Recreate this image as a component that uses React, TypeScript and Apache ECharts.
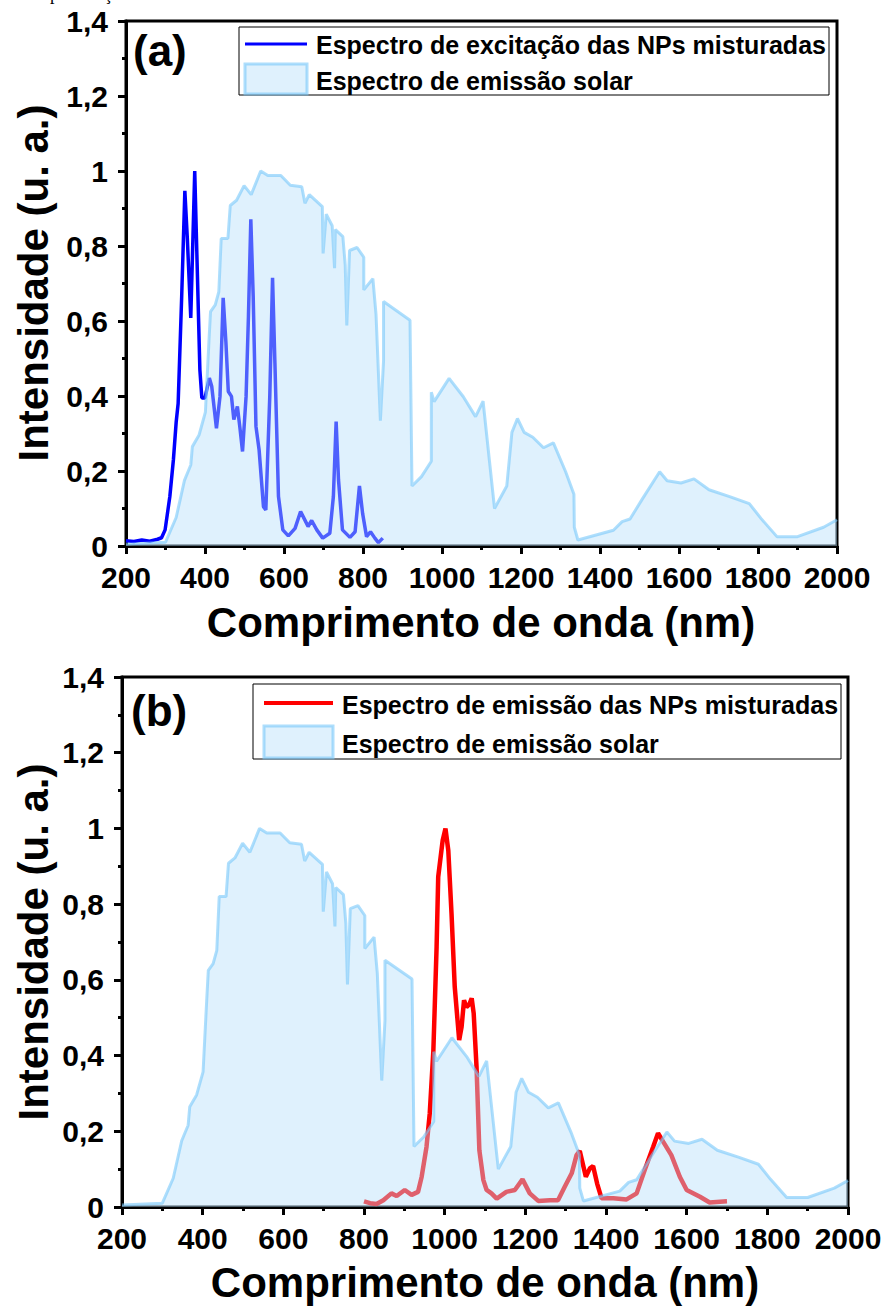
import React, { useEffect, useRef } from "react";
import * as echarts from "echarts";

// ---------- data ----------
const xTicks = [200, 400, 600, 800, 1000, 1200, 1400, 1600, 1800, 2000];
const yTicks = [0, 0.2, 0.4, 0.6, 0.8, 1, 1.2, 1.4];

// solar emission spectrum (normalised) [nm, intensity]
const solarSpectrum: [number, number][] = [
  [200, 0.005], [300, 0.01], [327, 0.076], [348, 0.175], [364, 0.216], [368, 0.265],
  [385, 0.296], [401, 0.357], [410, 0.546], [414, 0.625], [426, 0.643], [435, 0.678],
  [441, 0.82], [458, 0.82], [464, 0.908], [480, 0.922], [499, 0.961], [517, 0.937],
  [541, 1.0], [559, 0.988], [592, 0.988], [616, 0.962], [645, 0.958], [653, 0.914],
  [664, 0.937], [697, 0.905], [699, 0.78], [707, 0.885], [722, 0.854], [728, 0.741],
  [730, 0.844], [749, 0.825], [755, 0.749], [759, 0.588], [766, 0.788], [785, 0.796],
  [802, 0.77], [802, 0.683], [825, 0.713], [833, 0.617], [844, 0.334], [852, 0.493],
  [852, 0.652], [919, 0.602], [924, 0.16], [948, 0.185], [973, 0.226], [973, 0.41],
  [980, 0.385], [1018, 0.447], [1054, 0.398], [1085, 0.345], [1104, 0.386], [1133, 0.1],
  [1164, 0.16], [1177, 0.303], [1191, 0.34], [1208, 0.303], [1230, 0.29], [1257, 0.262],
  [1282, 0.275], [1313, 0.198], [1334, 0.138], [1335, 0.05], [1344, 0.016], [1434, 0.042],
  [1456, 0.065], [1476, 0.072], [1507, 0.125], [1551, 0.198], [1570, 0.174], [1605, 0.168],
  [1638, 0.179], [1676, 0.15], [1730, 0.131], [1778, 0.113], [1808, 0.073], [1848, 0.025],
  [1900, 0.025], [1966, 0.05], [2000, 0.07],
];

// excitation spectrum of mixed NPs [nm, intensity]
const excitationSpectrum: [number, number][] = [
  [200, 0.014], [220, 0.012], [240, 0.016], [260, 0.013], [280, 0.018], [290, 0.022],
  [299, 0.043], [311, 0.132], [320, 0.23], [327, 0.33], [332, 0.38], [341, 0.666],
  [349, 0.947], [355, 0.826], [364, 0.608], [374, 1.0], [380, 0.755], [387, 0.47],
  [392, 0.395], [400, 0.395], [411, 0.448], [417, 0.426], [429, 0.314], [438, 0.399],
  [446, 0.662], [453, 0.542], [459, 0.412], [467, 0.399], [473, 0.337], [482, 0.372],
  [488, 0.319], [495, 0.252], [504, 0.399], [510, 0.613], [516, 0.871], [522, 0.666],
  [529, 0.319], [537, 0.256], [548, 0.105], [554, 0.096], [564, 0.399], [571, 0.715],
  [577, 0.488], [586, 0.132], [597, 0.043], [611, 0.027], [628, 0.047], [642, 0.092],
  [653, 0.069], [661, 0.052], [670, 0.068], [683, 0.043], [698, 0.021], [716, 0.034],
  [725, 0.132], [732, 0.332], [738, 0.176], [748, 0.043], [767, 0.023], [780, 0.038],
  [791, 0.16], [799, 0.087], [809, 0.025], [819, 0.038], [830, 0.021], [839, 0.009],
  [850, 0.021],
];

// emission spectrum of mixed NPs [nm, intensity]
const emissionSpectrum: [number, number][] = [
  [800, 0.015], [815, 0.01], [831, 0.008], [848, 0.018], [868, 0.036], [881, 0.029],
  [901, 0.045], [918, 0.032], [934, 0.04], [943, 0.08], [955, 0.159], [963, 0.247],
  [972, 0.414], [980, 0.687], [984, 0.872], [988, 0.907], [995, 0.968], [1002, 1.0],
  [1009, 0.942], [1017, 0.775], [1025, 0.581], [1036, 0.441], [1042, 0.476], [1048, 0.546],
  [1054, 0.528], [1061, 0.535], [1067, 0.551], [1072, 0.511], [1079, 0.37], [1086, 0.15],
  [1096, 0.071], [1104, 0.045], [1116, 0.036], [1129, 0.022], [1153, 0.04], [1174, 0.045],
  [1193, 0.073], [1211, 0.036], [1232, 0.016], [1261, 0.018], [1281, 0.018], [1298, 0.054],
  [1315, 0.089], [1327, 0.137], [1335, 0.148], [1350, 0.08], [1360, 0.102], [1368, 0.108],
  [1378, 0.062], [1389, 0.023], [1418, 0.023], [1451, 0.02], [1476, 0.036], [1496, 0.098],
  [1517, 0.159], [1529, 0.195], [1542, 0.172], [1562, 0.137], [1583, 0.08], [1600, 0.045],
  [1633, 0.027], [1657, 0.012], [1700, 0.015],
];

const legendA = ["Espectro de excitação das NPs misturadas", "Espectro de emissão solar"];
const legendB = ["Espectro de emissão das NPs misturadas", "Espectro de emissão solar"];
const xTitle = "Comprimento de onda (nm)";
const yTitle = "Intensidade (u. a.)";

// ---------- styles ----------
const FONT = "Liberation Sans, Arial, sans-serif";
const SOLAR_FILL = "rgba(181,223,251,0.43)";
const SOLAR_LINE = "rgba(120,200,250,0.6)";

const fmtY = (v: number) => (v === 0 ? "0" : v === 1 ? "1" : v.toFixed(1).replace(".", ","));
const fmtX = (v: number) => String(v);

function xAxisFor(gridIndex: number) {
  return {
    type: "value",
    gridIndex,
    min: xTicks[0],
    max: xTicks[xTicks.length - 1],
    interval: xTicks[1] - xTicks[0],
    axisLine: { onZero: false, lineStyle: { color: "#000", width: 3 } },
    axisTick: { show: true, length: 8, lineStyle: { color: "#000", width: 3 } },
    minorTick: { show: true, splitNumber: 2, length: 4, lineStyle: { color: "#000", width: 3 } },
    splitLine: { show: false },
    minorSplitLine: { show: false },
    axisLabel: { fontFamily: FONT, fontWeight: "bold", fontSize: 30, color: "#000", margin: 16, formatter: fmtX },
  };
}
function yAxisFor(gridIndex: number) {
  return {
    type: "value",
    gridIndex,
    min: yTicks[0],
    max: yTicks[yTicks.length - 1],
    interval: yTicks[1] - yTicks[0],
    axisLine: { onZero: false, lineStyle: { color: "#000", width: 3 } },
    axisTick: { show: true, length: 8, lineStyle: { color: "#000", width: 3 } },
    minorTick: { show: true, splitNumber: 2, length: 4, lineStyle: { color: "#000", width: 3 } },
    splitLine: { show: false },
    minorSplitLine: { show: false },
    axisLabel: { fontFamily: FONT, fontWeight: "bold", fontSize: 30, color: "#000", margin: 18, formatter: fmtY },
  };
}

function txt(text: string, x: number, y: number, size: number, extra: any = {}) {
  return {
    type: "text",
    x,
    y,
    ...extra,
    style: {
      text,
      fontFamily: FONT,
      fontWeight: "bold",
      fontSize: size,
      fill: "#000",
      align: extra.align || "left",
      verticalAlign: "middle",
    },
  };
}

function legendGroup(box: any, lineY: number, lineColor: string, lineW: number, rect: any, labels: string[], textX: number, ty: number[]) {
  return [
    { type: "rect", shape: box, style: { fill: "#fff", stroke: "#000", lineWidth: 1 }, z: 10 },
    { type: "line", shape: { x1: rect.x, y1: lineY, x2: rect.x + rect.width, y2: lineY }, style: { stroke: lineColor, lineWidth: lineW }, z: 11 },
    { type: "rect", shape: rect, style: { fill: SOLAR_FILL, stroke: SOLAR_LINE, lineWidth: 3 }, z: 11 },
    { ...txt(labels[0], textX, ty[0], 25), z: 11 },
    { ...txt(labels[1], textX, ty[1], 25), z: 11 },
  ];
}

export default function App() {
  const ref = useRef<HTMLDivElement>(null);
  useEffect(() => {
    if (!ref.current) return;
    const chart = echarts.init(ref.current, null, { renderer: "svg" });
    const option: any = {
      animation: false,
      backgroundColor: "#fff",
      grid: [
        { left: 126, top: 21, width: 711, height: 525, show: true, borderColor: "#000", borderWidth: 3, backgroundColor: "transparent" },
        { left: 122, top: 677, width: 726, height: 530, show: true, borderColor: "#000", borderWidth: 3, backgroundColor: "transparent" },
      ],
      xAxis: [xAxisFor(0), xAxisFor(1)],
      yAxis: [yAxisFor(0), yAxisFor(1)],
      series: [
        {
          name: legendA[0], type: "line", xAxisIndex: 0, yAxisIndex: 0, data: excitationSpectrum, z: 2,
          showSymbol: false, symbol: "none", lineStyle: { color: "#0000FF", width: 3.5 },
        },
        {
          name: legendA[1], type: "line", xAxisIndex: 0, yAxisIndex: 0, data: solarSpectrum, z: 3,
          showSymbol: false, symbol: "none", lineStyle: { color: SOLAR_LINE, width: 3 },
          areaStyle: { color: SOLAR_FILL, opacity: 1 },
        },
        {
          name: legendB[0], type: "line", xAxisIndex: 1, yAxisIndex: 1, data: emissionSpectrum, z: 2,
          showSymbol: false, symbol: "none", lineStyle: { color: "#FF0000", width: 4.5 },
        },
        {
          name: legendB[1] + " ", type: "line", xAxisIndex: 1, yAxisIndex: 1, data: solarSpectrum, z: 3,
          showSymbol: false, symbol: "none", lineStyle: { color: SOLAR_LINE, width: 3 },
          areaStyle: { color: SOLAR_FILL, opacity: 1 },
        },
      ],
      graphic: [
        // remnants of caption above the figure
        { type: "text", x: 50, y: -6, style: { text: "p", fontFamily: "Liberation Serif", fontSize: 18, fill: "#000", verticalAlign: "middle" } },
        { type: "text", x: 104, y: -6, style: { text: "ç", fontFamily: "Liberation Serif", fontSize: 18, fill: "#000", verticalAlign: "middle" } },
        // panel labels
        txt("(a)", 133, 50, 44),
        txt("(b)", 131, 710, 44),
        // axis titles
        txt(xTitle, 481, 622, 42, { align: "center" }),
        txt(xTitle, 485, 1282, 42, { align: "center" }),
        txt(yTitle, 33, 283, 42, { align: "center", rotation: Math.PI / 2 }),
        txt(yTitle, 33, 942, 42, { align: "center", rotation: Math.PI / 2 }),
        ...legendGroup({ x: 239, y: 27, width: 590, height: 68 }, 44, "#0000FF", 3,
          { x: 245, y: 64, width: 62, height: 30 }, legendA, 316, [45, 81]),
        ...legendGroup({ x: 253, y: 684, width: 588, height: 75 }, 703, "#FF0000", 4,
          { x: 264, y: 726, width: 69, height: 32 }, legendB, 342, [705, 744]),
      ],
    };
    chart.setOption(option);
    return () => chart.dispose();
  }, []);
  return <div ref={ref} style={{ position: "absolute", left: 0, top: 0, width: 887, height: 1306 }} />;
}
